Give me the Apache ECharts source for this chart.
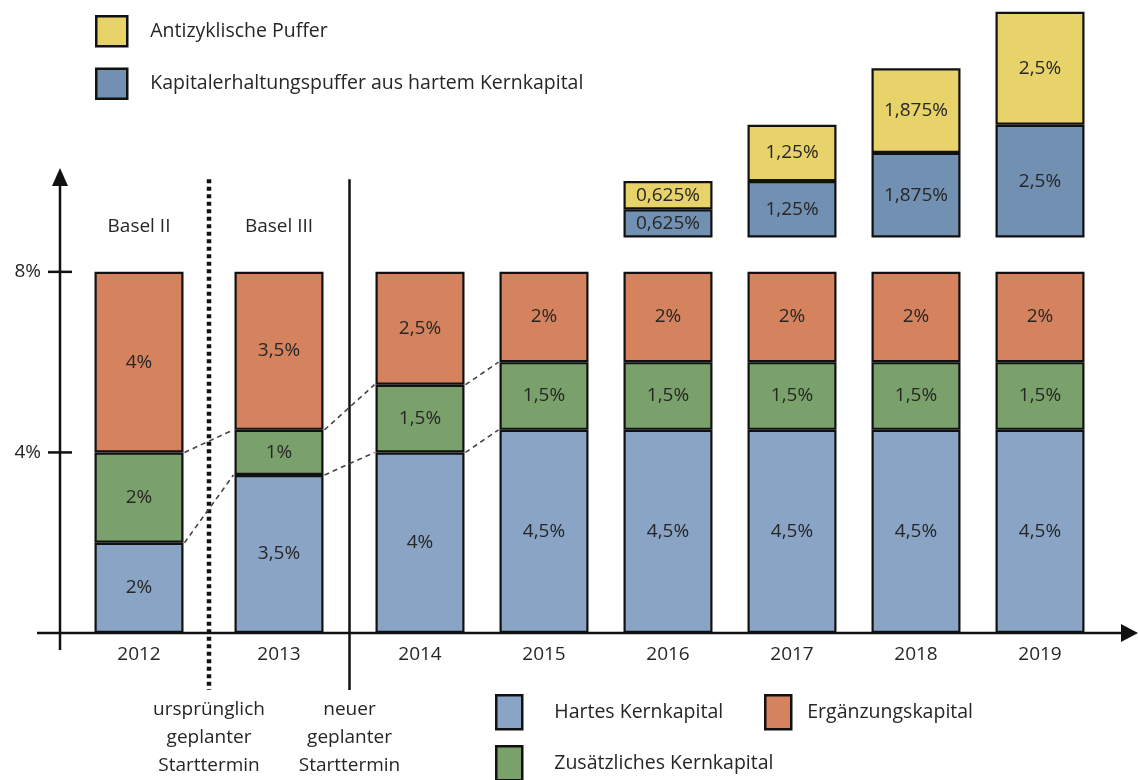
<!DOCTYPE html>
<html>
<head>
<meta charset="utf-8">
<script src="https://cdn.jsdelivr.net/npm/echarts@6/dist/echarts.min.js"></script>
<style>html,body{margin:0;padding:0;background:#fff}#c{width:1138px;height:780px}</style>
</head>
<body>
<div id="c"></div>
<script>
// ---- data ----
const yearsA = ['2012', '2013'];
const yearsB = ['2014', '2015', '2016', '2017', '2018', '2019'];
const hartesA = [2, 3.5];
const zusatzA = [2, 1];
const ergaenzA = [4, 3.5];
const hartesB = [4, 4.5, 4.5, 4.5, 4.5, 4.5];
const zusatzB = [1.5, 1.5, 1.5, 1.5, 1.5, 1.5];
const ergaenzB = [2.5, 2, 2, 2, 2, 2];
const bufferGap = [null, null, 0.76, 0.76, 0.76, 0.76];
const erhaltungB = [null, null, 0.625, 1.25, 1.875, 2.5];
const antizyklB = [null, null, 0.625, 1.25, 1.875, 2.5];
const yTicks = [4, 8];
const names = {
  hartes: 'Hartes Kernkapital',
  zusatz: 'Zusätzliches Kernkapital',
  ergaenz: 'Ergänzungskapital',
  erhalt: 'Kapitalerhaltungspuffer aus hartem Kernkapital',
  anti: 'Antizyklische Puffer'
};
const notes = ['ursprünglich\ngeplanter\nStarttermin', 'neuer\ngeplanter\nStarttermin'];
const eraLabels = ['Basel II', 'Basel III'];

// ---- styles ----
const FONT = '"Open Sans", Lato, sans-serif';
const FS = 19;
const LFS = 19.5;
const TXT = '#262626';
const colors = { hartes: '#8aa4c6', zusatz: '#7aa16b', ergaenz: '#d5835f', erhalt: '#7290b2', anti: '#e8d36a' };
const BW = 89;
const fmt = v => String(v).replace('.', ',') + '%';

function barSeries(key, data, gi) {
  return {
    type: 'bar', name: names[key], data: data, stack: 's' + gi,
    xAxisIndex: gi, yAxisIndex: gi, barWidth: BW, clip: false,
    itemStyle: { color: colors[key], borderColor: '#111', borderWidth: 2.2 },
    label: { show: true, position: 'inside', color: TXT, fontFamily: FONT, fontSize: FS,
      formatter: p => p.value == null ? '' : fmt(p.value) },
    emphasis: { disabled: true }
  };
}
const legItem = n => ({ name: n, itemStyle: { borderColor: '#111', borderWidth: 2.5 } });
function legend(list, left, top, w, h, gap, pad) {
  return { data: list.map(legItem), orient: 'vertical', left: left, top: top, padding: 0, height: 200,
    itemWidth: w, itemHeight: h, itemGap: gap, icon: 'rect', selectedMode: false,
    textStyle: { color: TXT, fontSize: LFS, fontFamily: FONT, padding: [0, 0, 0, pad] } };
}

const chart = echarts.init(document.getElementById('c'));
chart.setOption({
  animation: false,
  textStyle: { fontFamily: FONT },
  grid: [
    { left: 69, width: 280, top: 1, bottom: 147 },
    { left: 358, width: 744, top: 1, bottom: 147 }
  ],
  xAxis: [0, 1].map(i => ({
    type: 'category', gridIndex: i, data: i === 0 ? yearsA : yearsB,
    axisLine: { show: false }, axisTick: { show: false },
    axisLabel: { color: TXT, fontSize: FS, fontFamily: FONT, margin: 12 }
  })),
  yAxis: [0, 1].map(i => ({
    type: 'value', gridIndex: i, min: 0, max: 14, interval: 2,
    splitLine: { show: false }, axisLine: { show: false }, axisTick: { show: false },
    axisLabel: i === 0 ? { show: true, customValues: yTicks, formatter: '{value}%', color: TXT, fontSize: FS, fontFamily: FONT, margin: 28 } : { show: false }
  })),
  legend: [
    legend([names.anti, names.erhalt], 95, 15, 31, 30, 20, 18),
    legend([names.hartes], 495, 694, 26, 34, 0, 27),
    legend([names.zusatz], 495, 745, 26, 34, 0, 27),
    legend([names.ergaenz], 764, 694, 26, 34, 0, 11)
  ],
  series: [
    barSeries('hartes', hartesA, 0),
    barSeries('zusatz', zusatzA, 0),
    barSeries('ergaenz', ergaenzA, 0),
    barSeries('hartes', hartesB, 1),
    barSeries('zusatz', zusatzB, 1),
    barSeries('ergaenz', ergaenzB, 1),
    { type: 'bar', name: 'gap', data: bufferGap, stack: 's1', xAxisIndex: 1, yAxisIndex: 1, barWidth: BW,
      itemStyle: { color: 'rgba(0,0,0,0)', borderWidth: 0 }, label: { show: false }, emphasis: { disabled: true }, silent: true, clip: false },
    barSeries('erhalt', erhaltungB, 1),
    barSeries('anti', antizyklB, 1)
  ]
});

// ---- decorations derived from the scales ----
function px(gi, cat, val) { return chart.convertToPixel({ gridIndex: gi }, [cat, val]); }
const y0 = px(0, yearsA[0], 0)[1];
const yAxisX = 60;
const g = [];
const ink = '#111';
const xEnd = 1138;
g.push({ type: 'line', shape: { x1: 37, y1: y0, x2: xEnd - 12, y2: y0 }, style: { stroke: ink, lineWidth: 2.5 }, z: 10 });
g.push({ type: 'polygon', shape: { points: [[xEnd, y0], [xEnd - 17, y0 - 9], [xEnd - 17, y0 + 9]] }, style: { fill: ink }, z: 10 });
const yTop = px(0, yearsA[0], 10.3)[1];
g.push({ type: 'line', shape: { x1: yAxisX, y1: y0 + 17, x2: yAxisX, y2: yTop + 12 }, style: { stroke: ink, lineWidth: 2.5 }, z: 10 });
g.push({ type: 'polygon', shape: { points: [[yAxisX, yTop], [yAxisX - 8, yTop + 18], [yAxisX + 8, yTop + 18]] }, style: { fill: ink }, z: 10 });
yTicks.forEach(v => {
  const y = px(0, yearsA[0], v)[1];
  g.push({ type: 'line', shape: { x1: yAxisX - 12, y1: y, x2: yAxisX + 12, y2: y }, style: { stroke: ink, lineWidth: 2.5 }, z: 10 });
});
const c12 = px(0, yearsA[0], 0)[0], c13 = px(0, yearsA[1], 0)[0], c14 = px(1, yearsB[0], 0)[0];
const sepTop = px(0, yearsA[0], 10.05)[1];
const sepBot = y0 + 57;
const sx1 = (c12 + c13) / 2, sx2 = (c13 + c14) / 2;
g.push({ type: 'line', shape: { x1: sx1, y1: sepTop, x2: sx1, y2: sepBot }, style: { stroke: ink, lineWidth: 4.5, lineDash: [4, 3.5] }, z: 10 });
g.push({ type: 'line', shape: { x1: sx2, y1: sepTop, x2: sx2, y2: sepBot }, style: { stroke: ink, lineWidth: 2.5 }, z: 10 });
const eraY = px(0, yearsA[0], 9.0)[1];
[c12, c13].forEach((cx, i) => g.push({ type: 'text', x: cx, y: eraY, style: { text: eraLabels[i], fill: TXT, font: FS + 'px ' + FONT, align: 'center', verticalAlign: 'middle' }, z: 10 }));
[sx1, sx2].forEach((cx, i) => g.push({ type: 'text', x: cx, y: y0 + 63, style: { text: notes[i], fill: TXT, font: FS + 'px ' + FONT, align: 'center', verticalAlign: 'top', lineHeight: 28 }, z: 10 }));
const half = BW / 2 + 1;
const allCats = [[0, yearsA[0]], [0, yearsA[1]], [1, yearsB[0]], [1, yearsB[1]]];
const hartesAll = hartesA.concat(hartesB), zusatzAll = zusatzA.concat(zusatzB);
for (let i = 0; i < 3; i++) {
  const [ga, ca] = allCats[i], [gb, cb] = allCats[i + 1];
  [hartesAll[i], hartesAll[i] + zusatzAll[i]].forEach((va, k) => {
    const vb = k === 0 ? hartesAll[i + 1] : hartesAll[i + 1] + zusatzAll[i + 1];
    const a = px(ga, ca, va), b = px(gb, cb, vb);
    g.push({ type: 'line', shape: { x1: a[0] + half, y1: a[1], x2: b[0] - half, y2: b[1] }, style: { stroke: '#444', lineWidth: 1.6, lineDash: [5, 4] }, z: 10 });
  });
}
chart.setOption({ graphic: g });
</script>
</body>
</html>
